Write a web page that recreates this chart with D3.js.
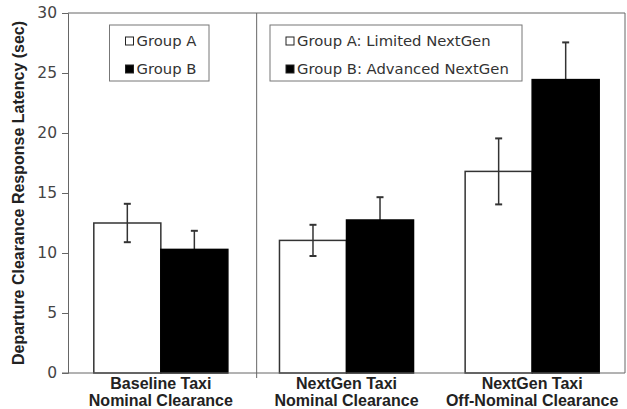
<!DOCTYPE html>
<html><head><meta charset="utf-8">
<script src="https://cdn.jsdelivr.net/npm/d3@7"></script>
<style>body{margin:0;background:#fff}svg{display:block}</style>
</head><body>
<svg id="c" width="627" height="409"></svg>
<script>
const categories = [["Baseline Taxi","Nominal Clearance"],["NextGen Taxi","Nominal Clearance"],["NextGen Taxi","Off-Nominal Clearance"]];
const groups = ["Group A","Group B"];
const groupAValues = [12.5, 11.05, 16.8];
const groupAErrors = [1.6, 1.3, 2.75];
const groupBValues = [10.3, 12.75, 24.45];
const groupBErrors = [1.55, 1.9, 3.1];
const yTicks = [0,5,10,15,20,25,30];
const legend1 = ["Group A","Group B"];
const legend2 = ["Group A: Limited NextGen","Group B: Advanced NextGen"];
const yTitle = "Departure Clearance Response Latency (sec)";

const svg = d3.select("#c");
const L = 68, R = 625, T = 13, B = 373;
const catKeys = categories.map(c => c.join(" "));
const x0 = d3.scaleBand().domain(catKeys).range([L, R]).paddingInner(0.278).paddingOuter(0.139);
const x1 = d3.scaleBand().domain(groups).range([0, x0.bandwidth()]);
const y = d3.scaleLinear().domain([0, 30]).range([B, T]);

const frameColor = "#666";
svg.append("line").attr("x1", L).attr("x2", R).attr("y1", T).attr("y2", T).attr("stroke", frameColor);
svg.append("line").attr("x1", R).attr("x2", R).attr("y1", T).attr("y2", B).attr("stroke", frameColor);

const data = [];
catKeys.forEach((k, i) => {
  data.push({cat: k, g: groups[0], v: groupAValues[i], e: groupAErrors[i]});
  data.push({cat: k, g: groups[1], v: groupBValues[i], e: groupBErrors[i]});
});

const divX = (x0(catKeys[0]) + x0.bandwidth() + x0(catKeys[1])) / 2 + 3;
svg.append("line").attr("x1", divX).attr("x2", divX).attr("y1", T).attr("y2", B + 5).attr("stroke", frameColor);

const ebColor = "#333";
function errorBars(sel) {
  sel.each(function(d) {
    const g = d3.select(this);
    const cx = x0(d.cat) + x1(d.g) + x1.bandwidth() / 2;
    g.append("line").attr("x1", cx).attr("x2", cx).attr("y1", y(d.v + d.e)).attr("y2", y(d.v - d.e)).attr("stroke", ebColor).attr("stroke-width", 1.5);
    [d.v + d.e, d.v - d.e].forEach(t => g.append("line").attr("x1", cx - 3.5).attr("x2", cx + 3.5).attr("y1", y(t)).attr("y2", y(t)).attr("stroke", ebColor).attr("stroke-width", 2));
  });
}

// group B error bars drawn beneath the black bars (lower half hidden)
svg.append("g").selectAll("g").data(data.filter(d => d.g === groups[1])).join("g").call(errorBars);

svg.append("g").selectAll("rect").data(data).join("rect")
  .attr("x", d => x0(d.cat) + x1(d.g))
  .attr("y", d => y(d.v))
  .attr("width", x1.bandwidth())
  .attr("height", d => B - y(d.v))
  .attr("fill", d => d.g === groups[0] ? "#fff" : "#000")
  .attr("stroke", d => d.g === groups[0] ? "#333" : "#000")
  .attr("stroke-width", 1.5);

svg.append("g").selectAll("g").data(data.filter(d => d.g === groups[0])).join("g").call(errorBars);

const yAxis = d3.axisLeft(y).tickValues(yTicks).tickSize(6).tickPadding(5);
const ya = svg.append("g").attr("transform", `translate(${L},0)`).call(yAxis);
ya.select(".domain").attr("stroke", frameColor);
ya.selectAll(".tick line").attr("stroke", frameColor);
ya.selectAll(".tick text").attr("font-family", "DejaVu Sans, Verdana, sans-serif").attr("font-size", 15.5).attr("fill", "#444");

svg.append("line").attr("x1", L - 6).attr("x2", R).attr("y1", B).attr("y2", B).attr("stroke", frameColor);

catKeys.forEach((k, i) => {
  const cx = x0(k) + x0.bandwidth() / 2;
  const t = svg.append("text").attr("x", cx).attr("text-anchor", "middle")
    .attr("font-family", "Liberation Sans, Arial, sans-serif").attr("font-weight", "bold").attr("font-size", 16).attr("fill", "#222");
  t.append("tspan").attr("x", cx).attr("y", 389).text(categories[i][0]);
  t.append("tspan").attr("x", cx).attr("y", 406).text(categories[i][1]);
});

svg.append("text").attr("transform", `translate(24,${(T + B) / 2}) rotate(-90)`).attr("text-anchor", "middle")
  .attr("font-family", "Liberation Sans, Arial, sans-serif").attr("font-weight", "bold").attr("font-size", 16).attr("fill", "#222")
  .text(yTitle);

function legend(items, bx, bw) {
  const g = svg.append("g");
  g.append("rect").attr("x", bx).attr("y", 25).attr("width", bw).attr("height", 56).attr("fill", "#fff").attr("stroke", "#777");
  items.forEach((t, i) => {
    const cy = 41 + i * 28;
    g.append("rect").attr("x", bx + 16).attr("y", cy - 4).attr("width", 8).attr("height", 8)
      .attr("fill", i === 0 ? "#fff" : "#000").attr("stroke", "#222").attr("stroke-width", 1);
    g.append("text").attr("x", bx + 27).attr("y", cy + 5).attr("font-family", "DejaVu Sans, Verdana, sans-serif")
      .attr("font-size", 14.8).attr("fill", "#333").text(t);
  });
}
legend(legend1, 109.5, 99.5);
legend(legend2, 270, 252);
</script>
</body></html>
